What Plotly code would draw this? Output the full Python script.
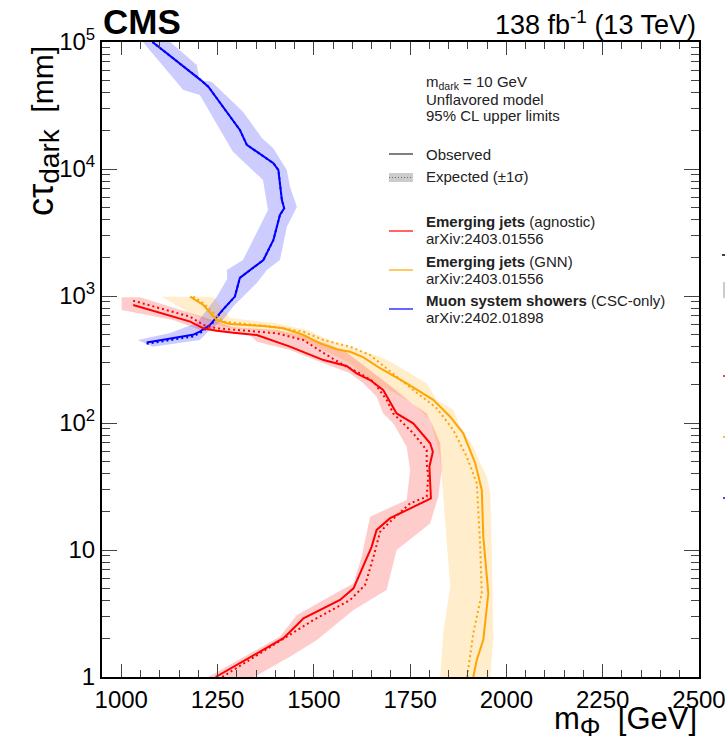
import plotly.graph_objects as go

# ---------------- data: m_phi [GeV] vs c*tau_dark [mm] ----------------
# Muon system showers (CSC-only)
blue_obs_m = [1066, 1134, 1186, 1204, 1230, 1264, 1295, 1308, 1334, 1369, 1395, 1412, 1423, 1417, 1408, 1395, 1326, 1308, 1226, 1204, 1081]
blue_obs_ct = [430, 465, 495, 525, 590, 780, 990, 1390, 1600, 1920, 2760, 4350, 4900, 5700, 9800, 11100, 15500, 20300, 44500, 50800, 100000]
blue_exp_m = [1066, 1134, 1186, 1206, 1232, 1264, 1295, 1308, 1334, 1369, 1395, 1412, 1423, 1417, 1408, 1395, 1326, 1308, 1226, 1204, 1081]
blue_exp_ct = [420, 450, 480, 515, 585, 780, 990, 1390, 1600, 1920, 2760, 4350, 4900, 5700, 9800, 11100, 15500, 20300, 44500, 50800, 100000]
blue_lo_m = [1043, 1127, 1196, 1248, 1275, 1274, 1316, 1381, 1368, 1290, 1204, 1161, 1056]
blue_lo_ct = [450, 511, 613, 987, 1361, 1603, 1920, 4750, 8190, 13680, 38270, 41880, 100000]
blue_hi_m = [1082, 1118, 1204, 1230, 1264, 1290, 1352, 1378, 1412, 1430, 1456, 1438, 1430, 1394, 1365, 1316, 1235, 1204, 1196, 1127]
blue_hi_ct = [399, 411, 450, 540, 647, 824, 1266, 1603, 1920, 3513, 5050, 7260, 9820, 14630, 17540, 28260, 48670, 50000, 65930, 100000]

# Emerging jets (agnostic)
red_obs_m = [1245, 1421, 1456, 1473, 1568, 1603, 1650, 1663, 1698, 1758, 1804, 1800, 1809, 1802, 1758, 1715, 1680, 1646, 1611, 1585, 1525, 1438, 1352, 1291, 1248, 1213, 1179, 1031]
red_obs_ct = [1.0, 2.02, 2.57, 2.90, 4.04, 4.99, 10.6, 14.4, 17.8, 21.9, 25.5, 45.3, 59.4, 69.2, 99.5, 119, 182, 218, 246, 281, 313, 399, 493, 514, 533, 557, 628, 849]
red_exp_m = [1262, 1404, 1443, 1499, 1594, 1633, 1655, 1672, 1698, 1750, 1793, 1797, 1793, 1793, 1758, 1706, 1689, 1655, 1620, 1577, 1525, 1473, 1404, 1352, 1248, 1213, 1179, 1031]
red_exp_ct = [1.0, 1.84, 2.21, 2.81, 4.04, 5.30, 8.86, 13.9, 16.7, 23.3, 26.3, 37.8, 48.2, 61.3, 83, 119, 152, 211, 246, 286, 356, 450, 509, 523, 557, 591, 687, 918]
red_lo_m = [1226, 1412, 1456, 1603, 1624, 1646, 1741, 1750, 1741, 1706, 1680, 1663, 1629, 1594, 1525, 1438, 1352, 1334, 1205, 1135, 1001]
red_lo_ct = [1, 2.08, 3.08, 5.47, 8.86, 18.3, 24.8, 42.7, 65, 99.5, 119, 161, 205, 246, 295, 376, 437, 493, 540, 647, 776]
red_hi_m = [1345, 1438, 1508, 1603, 1689, 1715, 1802, 1823, 1832, 1828, 1810, 1793, 1750, 1706, 1672, 1577, 1482, 1404, 1291, 1205, 1144, 1049, 1001]
red_hi_ct = [1, 1.445, 1.96, 3.37, 4.84, 10, 16.2, 26.3, 42.7, 69.2, 93.5, 119, 147, 189, 226, 376, 478, 540, 567, 696, 800, 977, 977]

# Emerging jets (GNN)
orange_obs_m = [1914, 1923, 1940, 1953, 1940, 1936, 1919, 1888, 1854, 1810, 1741, 1672, 1629, 1594, 1560, 1516, 1473, 1421, 1369, 1282, 1248, 1230, 1213, 1179]
orange_obs_ct = [1.0, 1.36, 1.96, 4.56, 12.7, 29.7, 48.2, 83, 112, 152, 205, 270, 329, 364, 380, 424, 493, 557, 580, 602, 647, 752, 849, 988]
orange_exp_m = [1898, 1914, 1936, 1932, 1923, 1897, 1862, 1819, 1758, 1698, 1646, 1594, 1525, 1473, 1395, 1265, 1238, 1212, 1187]
orange_exp_ct = [1.0, 2.21, 4.56, 10.6, 33.5, 54.3, 88, 131, 182, 254, 343, 399, 450, 523, 573, 628, 748, 881, 988]
orange_lo_m = [1828, 1836, 1854, 1836, 1828, 1802, 1758, 1646, 1594, 1473, 1404, 1265, 1179, 1105]
orange_lo_ct = [1, 2.21, 5.14, 26.3, 54.3, 106, 143, 218, 295, 450, 523, 567, 731, 988]
orange_hi_m = [1958, 1966, 1962, 1958, 1949, 1932, 1914, 1880, 1862, 1819, 1793, 1706, 1672, 1560, 1482, 1404, 1282, 1239, 1105]
orange_hi_ct = [1, 2.08, 10.6, 27.9, 37.8, 48.2, 65, 93.5, 127, 152, 205, 295, 333, 424, 540, 609, 671, 988, 988]

x_ticks = [1000, 1250, 1500, 1750, 2000, 2250, 2500]
y_ticks = [1, 10, 100, 1000, 10000, 100000]
y_ticktext = ["1", "10", "10<sup>2</sup>", "10<sup>3</sup>", "10<sup>4</sup>", "10<sup>5</sup>"]

FONT = "Liberation Sans, Arial, Helvetica, sans-serif"
W, H = 725, 742
L, R, T, B = 102, 699, 42, 677
DOT = "2px,3px"


def px(x):
    return (x - L) / (R - L)


def py(y):
    return (B - y) / (B - T)


models = [
    ("Muon system showers", "rgb(0,0,255)", "rgba(0,0,255,0.2)",
     blue_obs_m, blue_obs_ct, blue_exp_m, blue_exp_ct, blue_lo_m, blue_lo_ct, blue_hi_m, blue_hi_ct),
    ("Emerging jets (GNN)", "rgb(255,165,0)", "rgba(255,165,0,0.2)",
     orange_obs_m, orange_obs_ct, orange_exp_m, orange_exp_ct, orange_lo_m, orange_lo_ct, orange_hi_m, orange_hi_ct),
    ("Emerging jets (agnostic)", "rgb(255,0,0)", "rgba(255,0,0,0.2)",
     red_obs_m, red_obs_ct, red_exp_m, red_exp_ct, red_lo_m, red_lo_ct, red_hi_m, red_hi_ct),
]

fig = go.Figure()

# +-1 sigma expected bands
for name, col, fcol, om, oc, em, ec, lm, lc, hm, hc in models:
    fig.add_trace(go.Scatter(
        x=lm + hm[::-1], y=lc + hc[::-1], mode="lines", fill="toself",
        fillcolor=fcol, line=dict(width=0), hoverinfo="skip", showlegend=False))

# expected (dotted) and observed (solid) limits
for name, col, fcol, om, oc, em, ec, lm, lc, hm, hc in models:
    fig.add_trace(go.Scatter(x=em, y=ec, mode="lines",
                             line=dict(color=col, width=2, dash=DOT), showlegend=False))
    fig.add_trace(go.Scatter(x=om, y=oc, mode="lines",
                             line=dict(color=col, width=2), name=name, showlegend=False))

minor_y = [m * 10 ** e for e in range(0, 5) for m in range(2, 10)]

fig.update_layout(
    width=W, height=H, autosize=False,
    margin=dict(l=L, r=W - R, t=T, b=H - B),
    paper_bgcolor="white", plot_bgcolor="white",
    font=dict(family=FONT, color="black"),
    xaxis=dict(
        range=[950, 2500], tickvals=x_ticks, ticks="inside", ticklen=13, tickwidth=1,
        tickcolor="#444", showline=True, linecolor="black", linewidth=2, mirror="allticks",
        showgrid=False, zeroline=False, tickfont=dict(size=24, family=FONT),
        ticklabeloverflow="allow", automargin=False,
        minor=dict(dtick=50, ticks="inside", ticklen=7, tickwidth=1, tickcolor="#444", showgrid=False),
    ),
    yaxis=dict(
        type="log", range=[0, 5], tickvals=y_ticks, ticktext=y_ticktext, ticks="inside",
        ticklen=15, tickwidth=1, tickcolor="#444", showline=True, linecolor="black", linewidth=2,
        mirror="allticks", showgrid=False, zeroline=False, tickfont=dict(size=24, family=FONT),
        ticklabeloverflow="allow", automargin=False,
        minor=dict(tickvals=minor_y, ticks="inside", ticklen=8, tickwidth=1, tickcolor="#444", showgrid=False),
    ),
)

ann = []
# header
ann.append(dict(text="<b>CMS</b>", x=px(101), y=py(21), xanchor="left", yanchor="middle",
                font=dict(size=35, family=FONT)))
ann.append(dict(text="138 fb<sup>-1</sup> (13 TeV)", x=px(698), y=py(23), xanchor="right", yanchor="middle",
                font=dict(size=27, family=FONT)))
# axis titles
ann.append(dict(text="m<sub><span style='font-size:26px'>Φ</span></sub>  [GeV]", x=px(699), y=py(744),
                xanchor="right", yanchor="bottom", font=dict(size=31, family=FONT)))
ann.append(dict(text="<span style='font-size:36px'>cτ</span><sub><span style='font-size:28px'>dark</span></sub>  [mm]",
                x=px(42), y=py(44), xanchor="center", yanchor="top",
                textangle=-90, font=dict(size=30, family=FONT)))

# info block
TXT = "#222"
FS = 15
for s, yy in [("m<sub>dark</sub> = 10 GeV", 82), ("Unflavored model", 99), ("95% CL upper limits", 115)]:
    ann.append(dict(text=s, x=px(424), y=py(yy), xanchor="left", yanchor="middle",
                    font=dict(size=FS, family=FONT, color=TXT)))

# legend text
leg_rows = [
    ("Observed", 154), ("Expected (±1σ)", 177),
    ("<b>Emerging jets</b> (agnostic)", 221), ("arXiv:2403.01556", 238),
    ("<b>Emerging jets</b> (GNN)", 261), ("arXiv:2403.01556", 278),
    ("<b>Muon system showers</b> (CSC-only)", 300), ("arXiv:2402.01898", 317),
]
for s, yy in leg_rows:
    ann.append(dict(text=s, x=px(424), y=py(yy), xanchor="left", yanchor="middle",
                    font=dict(size=FS, family=FONT, color=TXT)))

for a in ann:
    a.update(xref="paper", yref="paper", showarrow=False)
fig.update_layout(annotations=ann)

shapes = []
# legend samples
shapes.append(dict(type="line", x0=px(389), x1=px(413), y0=py(154), y1=py(154),
                   line=dict(color="#555", width=1.5)))
shapes.append(dict(type="rect", x0=px(389), x1=px(413), y0=py(173), y1=py(182),
                   fillcolor="rgba(0,0,0,0.2)", line=dict(width=0)))
shapes.append(dict(type="line", x0=px(389), x1=px(413), y0=py(177.5), y1=py(177.5),
                   line=dict(color="#666", width=1, dash="1px,2px")))
for col, yy in [("rgb(255,0,0)", 231), ("rgb(255,165,0)", 270), ("rgb(0,0,255)", 309)]:
    shapes.append(dict(type="line", x0=px(389), x1=px(413), y0=py(yy), y1=py(yy),
                       line=dict(color=col, width=1.2)))

# clipped samples of a second legend at the right edge of the canvas
shapes.append(dict(type="line", x0=px(722), x1=px(726), y0=py(255), y1=py(255),
                   line=dict(color="black", width=1.5)))
shapes.append(dict(type="rect", x0=px(723), x1=px(726), y0=py(282), y1=py(298),
                   fillcolor="rgba(0,0,0,0.2)", line=dict(width=0)))
for col, yy in [("rgb(255,0,0)", 376), ("rgb(255,165,0)", 437), ("rgb(0,0,255)", 498)]:
    shapes.append(dict(type="line", x0=px(723), x1=px(726), y0=py(yy), y1=py(yy),
                       line=dict(color=col, width=1.5)))
for s in shapes:
    s.update(xref="paper", yref="paper")
fig.update_layout(shapes=shapes)

fig.write_html("out.html")
